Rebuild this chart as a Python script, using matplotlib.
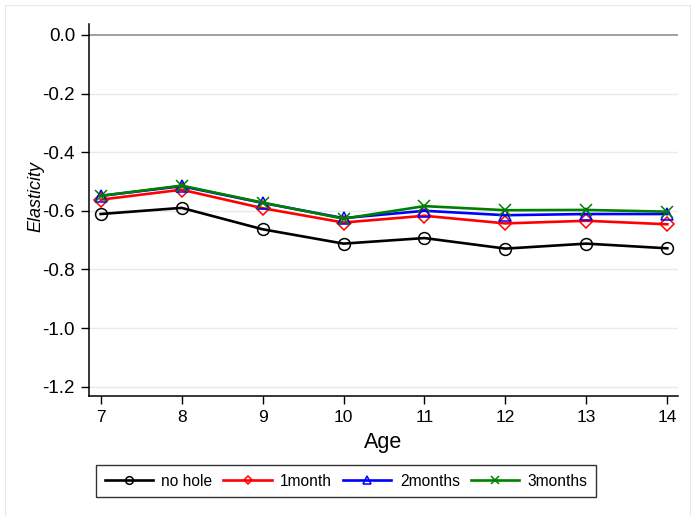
import matplotlib
matplotlib.use("Agg")
import matplotlib.pyplot as plt
from matplotlib.patches import Rectangle

ages = [7, 8, 9, 10, 11, 12, 13, 14]
no_hole = [-0.611, -0.590, -0.663, -0.712, -0.693, -0.729, -0.712, -0.728]
one_month = [-0.562, -0.528, -0.591, -0.640, -0.617, -0.643, -0.634, -0.646]
two_months = [-0.549, -0.516, -0.573, -0.625, -0.600, -0.615, -0.611, -0.611]
three_months = [-0.549, -0.514, -0.572, -0.627, -0.584, -0.598, -0.597, -0.603]
yticks = [0.0, -0.2, -0.4, -0.6, -0.8, -1.0, -1.2]
labels = ["no hole", "1month", "2months", "3months"]

plt.rcParams['font.family'] = ['Liberation Sans', 'DejaVu Sans']

W, H = 691, 516
fig = plt.figure(figsize=(W / 100, H / 100), dpi=100)
fig.patches.append(Rectangle((5 / W, 0), (W - 6) / W, (H - 5) / H, transform=fig.transFigure,
                             fill=False, edgecolor='#e8e8e8', linewidth=0.8))

left, right, top, bottom = 89, 678, 24, 396
ax = fig.add_axes([left / W, 1 - bottom / H, (right - left) / W, (bottom - top) / H])

ax.set_xlim(6.856, 14.132)
ax.set_ylim(-1.232, 0.0375)

for y in yticks:
    if y == 0.0:
        ax.axhline(y, color='#909090', linewidth=1.2, zorder=1)
    else:
        ax.axhline(y, color='#eaeaea', linewidth=1.0, zorder=0)

ax.plot(ages, no_hole, color='black', lw=1.9, marker='o', ms=8.5, mfc='none', mec='black', mew=1.1, label=labels[0], zorder=3)
ax.plot(ages, one_month, color='red', lw=1.9, marker='D', ms=7, mfc='none', mec='red', mew=1.1, label=labels[1], zorder=3)
ax.plot(ages, two_months, color='blue', lw=1.9, marker='^', ms=8.5, mfc='none', mec='blue', mew=1.1, label=labels[2], zorder=4)
ax.plot(ages, three_months, color='green', lw=1.9, marker='x', ms=8.5, mec='green', mew=1.1, label=labels[3], zorder=5)

ax.set_yticks(yticks)
ax.set_yticklabels([f"{v:.1f}" for v in yticks])
ax.set_xticks(ages)
ax.tick_params(axis='both', length=6, width=1, color='black', pad=4)
ax.tick_params(axis='x', labelsize=12.5)
ax.tick_params(axis='y', labelsize=13.5)
for s in ['top', 'right']:
    ax.spines[s].set_visible(False)
for s in ['left', 'bottom']:
    ax.spines[s].set_linewidth(1.1)

ax.set_ylabel('Elasticity', fontsize=13, style='italic')
ax.yaxis.set_label_coords(-0.075, 0.537)
ax.set_xlabel('Age', fontsize=15.5, labelpad=5)

leg = fig.legend(loc='center', bbox_to_anchor=(346 / W, 1 - 481 / H), ncol=4, fontsize=11.2,
                 frameon=True, fancybox=False, edgecolor='black', handlelength=3.1,
                 handletextpad=0.55, columnspacing=0.7, borderpad=0.55, borderaxespad=0,
                 markerscale=0.65)
leg.get_frame().set_linewidth(1.0)

fig.savefig('out.png', dpi=100, facecolor='white')
